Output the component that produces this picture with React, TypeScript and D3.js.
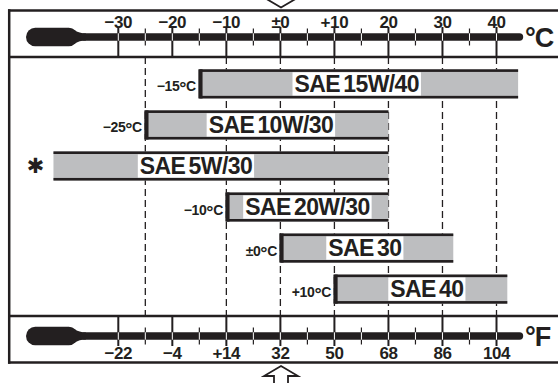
import React, { useEffect, useRef } from "react";
import * as d3 from "d3";

// ---- data ----
const celsiusTicks = [-30, -20, -10, 0, 10, 20, 30, 40];
const celsiusLabels = ["−30", "−20", "−10", "±0", "+10", "20", "30", "40"];
const fahrenheitLabels = ["−22", "−4", "+14", "32", "50", "68", "86", "104"];
const minorTicks = [-25, -15, -5, 5, 15, 25, 35];
const gridTemps = [-25, -10, 0, 10, 20, 30, 40];
const grades = ["SAE 15W/40", "SAE 10W/30", "SAE 5W/30", "SAE 20W/30", "SAE 30", "SAE 40"];
const lowTemps = [-15, -25, -42, -10, 0, 10];
const highTemps = [44, 20, 20, 20, 32, 42];
const lowLabels = ["−15°C", "−25°C", "✱", "−10°C", "±0°C", "+10°C"];

const W = 558;
const H = 383;
const ink = "#231f20";
const grey = "#bdbec0";
const FONT = "'Liberation Sans', Arial, Helvetica, sans-serif";

export default function App() {
  const ref = useRef<SVGSVGElement>(null);

  useEffect(() => {
    const svg = d3.select(ref.current as SVGSVGElement);
    svg.selectAll("*").remove();

    const x = d3.scaleLinear().domain([-30, 40]).range([118.3, 496.5]);
    const topY = 10.5, sepA = 57, sepB = 316, botY = 362.5;
    const y = d3
      .scaleBand<string>()
      .domain(grades)
      .range([sepA, sepB])
      .paddingInner(0.29)
      .paddingOuter(0.3);

    svg.append("rect").attr("width", W).attr("height", H).attr("fill", "#fff");

    // arrows
    const arrow = (tipY: number, dir: number) => {
      const pts: [number, number][] = [
        [281, tipY],
        [298, tipY + 10 * dir],
        [288, tipY + 10 * dir],
        [288, tipY + 30 * dir],
        [274, tipY + 30 * dir],
        [274, tipY + 10 * dir],
        [264, tipY + 10 * dir],
      ];
      svg
        .append("polygon")
        .attr("points", pts.map((p) => p.join(",")).join(" "))
        .attr("fill", "#fff")
        .attr("stroke", ink)
        .attr("stroke-width", 1.8)
        .attr("stroke-linejoin", "miter");
    };
    arrow(7.5, -1);
    arrow(366, 1);

    // middle panel dashed gridlines
    svg
      .append("g")
      .selectAll("line")
      .data(gridTemps)
      .join("line")
      .attr("x1", (d) => x(d))
      .attr("x2", (d) => x(d))
      .attr("y1", sepA)
      .attr("y2", sepB)
      .attr("stroke", ink)
      .attr("stroke-width", 1.3)
      .attr("stroke-dasharray", "7,4");

    // bars
    const band = y.bandwidth();
    grades.forEach((name, i) => {
      const x0 = x(lowTemps[i]);
      const x1 = x(highTemps[i]);
      const yt = y(name) as number;
      const g = svg.append("g");
      g.append("rect").attr("x", x0).attr("y", yt).attr("width", x1 - x0).attr("height", band).attr("fill", grey);
      g.append("rect").attr("x", x0).attr("y", yt).attr("width", x1 - x0).attr("height", 2.6).attr("fill", ink);
      g.append("rect").attr("x", x0).attr("y", yt + band - 2.6).attr("width", x1 - x0).attr("height", 2.6).attr("fill", ink);
      const isOpen = lowLabels[i] === "✱";
      if (!isOpen) {
        g.append("rect").attr("x", x0 - 1).attr("y", yt).attr("width", 4.2).attr("height", band).attr("fill", ink);
      }
      const shift: Record<string, number> = { "SAE 5W/30": -25, "SAE 10W/30": 4, "SAE 40": 6, "SAE 15W/40": -2, "SAE 30": -2 };
      const cx = (x0 + x1) / 2 + (shift[name] || 0);
      const box = g.append("rect").attr("fill", "#fff");
      const t = g
        .append("text")
        .attr("x", cx)
        .attr("y", yt + band / 2 + 8.3)
        .attr("text-anchor", "middle")
        .attr("font-family", FONT)
        .attr("font-weight", "bold")
        .attr("font-size", 23)
        .attr("letter-spacing", -0.6)
        .attr("word-spacing", -2.5)
        .attr("fill", ink)
        .text(name);
      const bb = (t.node() as SVGTextElement).getBBox();
      box.attr("x", bb.x - 2).attr("y", yt + 3).attr("width", bb.width + 4).attr("height", band - 6);

      // low limit label
      if (isOpen) {
        g.append("text")
          .attr("x", x0 - 9)
          .attr("y", yt + band / 2 + 7)
          .attr("text-anchor", "end")
          .attr("font-family", "'DejaVu Sans', sans-serif")
          .attr("font-weight", "bold")
          .attr("font-size", 21)
          .attr("fill", ink)
          .text("✱");
      } else {
        const [num] = lowLabels[i].split("°");
        const lt = g
          .append("text")
          .attr("x", x0 - 3.5)
          .attr("y", yt + band / 2 + 7.5)
          .attr("text-anchor", "end")
          .attr("font-family", FONT)
          .attr("font-weight", "bold")
          .attr("font-size", 14)
          .attr("letter-spacing", -0.4)
          .attr("fill", ink);
        lt.append("tspan").text(num);
        lt.append("tspan").attr("font-size", 18).attr("dy", 3).text("°");
        lt.append("tspan").attr("dy", -3).text("C");
      }
    });

    // thermometers
    const thermo = (cy: number, top: boolean, labels: string[], unit: string) => {
      const g = svg.append("g");
      g.selectAll("line.maj")
        .data(celsiusTicks)
        .join("line")
        .attr("x1", (d) => x(d))
        .attr("x2", (d) => x(d))
        .attr("y1", top ? cy - 10 : sepB)
        .attr("y2", top ? sepA : cy + 10)
        .attr("stroke", ink)
        .attr("stroke-width", 2);
      g.selectAll("line.min")
        .data(minorTicks)
        .join("line")
        .attr("x1", (d) => x(d))
        .attr("x2", (d) => x(d))
        .attr("y1", cy - 8.5)
        .attr("y2", cy + 8.5)
        .attr("stroke", ink)
        .attr("stroke-width", 1.2);
      g.append("rect").attr("x", 26).attr("y", cy - 9.2).attr("width", 52).attr("height", 18.4).attr("rx", 9.2).attr("fill", ink);
      g.append("path")
        .attr("d", `M66,${cy - 9} C74,${cy - 9} 76,${cy - 3.6} 86,${cy - 3.6} L86,${cy + 3.6} C76,${cy + 3.6} 74,${cy + 9} 66,${cy + 9} Z`)
        .attr("fill", ink);
      g.append("line").attr("x1", 84).attr("x2", 519.5).attr("y1", cy).attr("y2", cy).attr("stroke", ink).attr("stroke-width", 7.4).attr("stroke-linecap", "round");
      g.selectAll("line.w")
        .data([...celsiusTicks, ...minorTicks])
        .join("line")
        .attr("x1", (d) => x(d))
        .attr("x2", (d) => x(d))
        .attr("y1", cy - 3.7)
        .attr("y2", cy + 3.7)
        .attr("stroke", "#fff")
        .attr("stroke-width", 1);
      g.selectAll("text.lab")
        .data(celsiusTicks)
        .join("text")
        .attr("x", (d) => x(d))
        .attr("y", top ? cy - 9.5 : cy + 22.5)
        .attr("text-anchor", "middle")
        .attr("font-family", FONT)
        .attr("font-weight", "bold")
        .attr("font-size", 17)
        .attr("letter-spacing", -0.4)
        .attr("fill", ink)
        .text((_, i) => labels[i]);
      const u = g
        .append("text")
        .attr("x", 525)
        .attr("y", cy + 9.5)
        .attr("font-family", FONT)
        .attr("font-weight", "bold")
        .attr("font-size", 27)
        .attr("fill", ink);
      u.append("tspan").text("°");
      u.append("tspan").attr("dx", -1).text(unit);
    };
    thermo(37, true, celsiusLabels, "C");
    thermo(336, false, fahrenheitLabels, "F");

    const frame = svg.append("g").attr("stroke", ink).attr("stroke-width", 2.5);
    [topY, sepA, sepB, botY].forEach((yy) => {
      frame.append("line").attr("x1", 8).attr("x2", W).attr("y1", yy).attr("y2", yy);
    });
    frame.append("line").attr("x1", 9.2).attr("x2", 9.2).attr("y1", topY - 1.2).attr("y2", botY + 1.2);
  }, []);

  return (
    <svg
      ref={ref}
      width={W}
      height={H}
      style={{ position: "absolute", left: 0, top: 0, display: "block" }}
    />
  );
}
